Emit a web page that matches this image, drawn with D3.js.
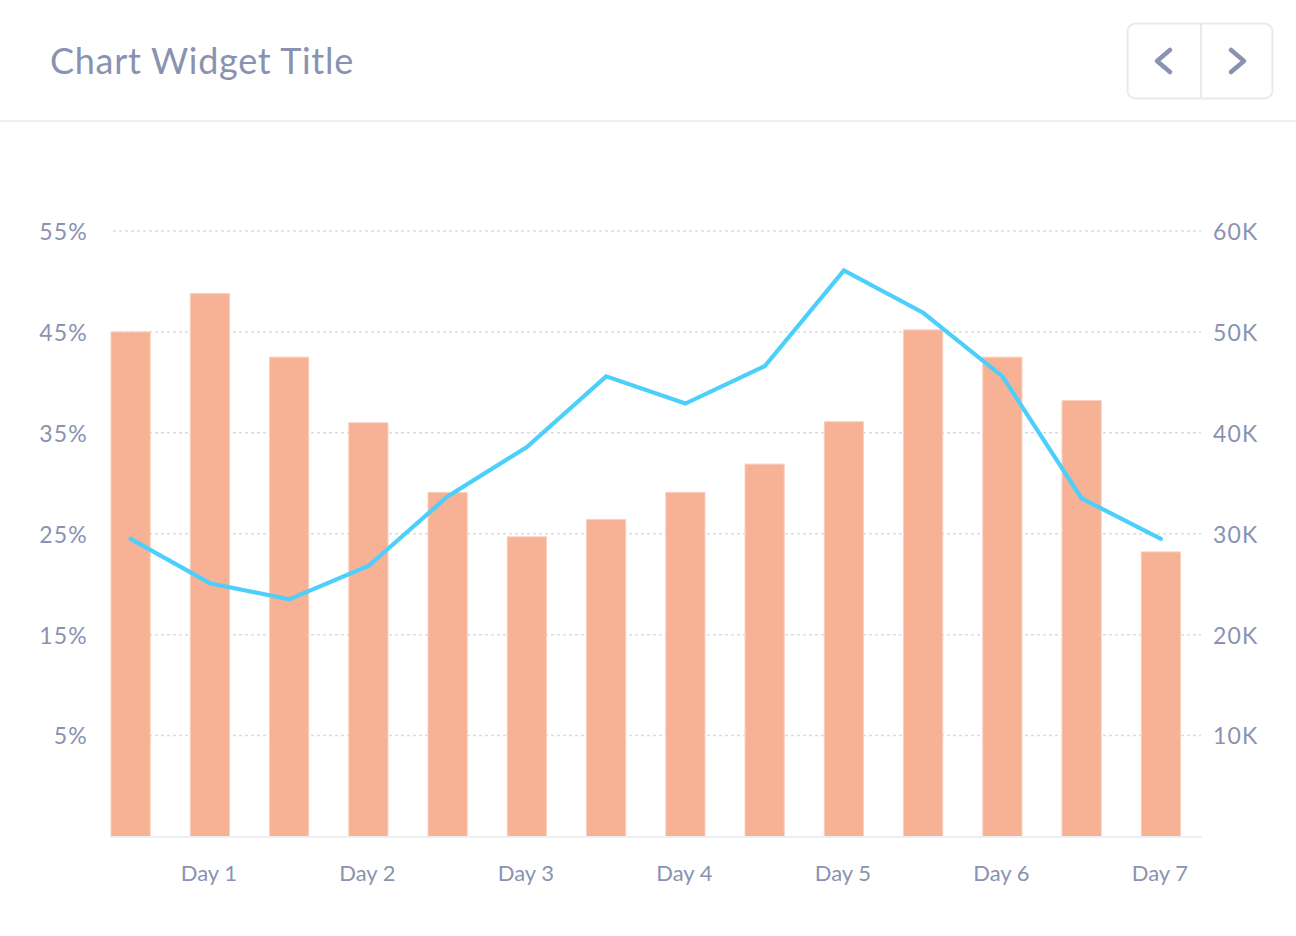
<!DOCTYPE html>
<html>
<head>
<meta charset="utf-8">
<script src="https://cdn.jsdelivr.net/npm/d3@7"></script>
<style>
  html, body { margin: 0; padding: 0; background: #ffffff; }
  svg { display: block; font-family: Lato, "Open Sans", sans-serif; }
</style>
</head>
<body>
<svg id="chart" width="1296" height="936"></svg>
<script>
// ---- data ----
const title = "Chart Widget Title";
const categories = ["D1a","D1b","D2a","D2b","D3a","D3b","D4a","D4b","D5a","D5b","D6a","D6b","D7a","D7b"];
const categoryLabels = ["", "Day 1", "", "Day 2", "", "Day 3", "", "Day 4", "", "Day 5", "", "Day 6", "", "Day 7"];
const barValues = [50000, 53800, 47500, 41000, 34100, 29700, 31400, 34100, 36900, 41100, 50200, 47500, 43200, 28200];
const lineValues = [24.5, 20.1, 18.5, 21.8, 28.7, 33.6, 40.6, 37.9, 41.6, 51.1, 46.9, 40.6, 28.5, 24.5];
const leftTicks = [5, 15, 25, 35, 45, 55];
const rightTicks = [10000, 20000, 30000, 40000, 50000, 60000];

// ---- styles ----
const textColor = "#8A92B2";
const barColor = "#F7B194";
const lineColor = "#4DCFFB";
const gridColor = "#D9DBE4";
const axisColor = "#EEEFF4";

const svg = d3.select("#chart");

// header
svg.append("text")
  .attr("x", 50).attr("y", 74)
  .attr("fill", textColor)
  .attr("font-size", 36)
  .attr("letter-spacing", 0.7)
  .text(title);

svg.append("line")
  .attr("x1", 0).attr("x2", 1296)
  .attr("y1", 121).attr("y2", 121)
  .attr("stroke", axisColor).attr("stroke-width", 2);

// nav buttons
const nav = svg.append("g");
nav.append("rect")
  .attr("x", 1127.5).attr("y", 23.5).attr("width", 145).attr("height", 75)
  .attr("rx", 8).attr("fill", "#fff")
  .attr("stroke", "#E9EAF0").attr("stroke-width", 2);
nav.append("line")
  .attr("x1", 1201).attr("x2", 1201).attr("y1", 24).attr("y2", 98)
  .attr("stroke", "#E9EAF0").attr("stroke-width", 2);
nav.append("path")
  .attr("d", "M1170,50 L1157,61 L1170,72")
  .attr("fill", "none").attr("stroke", textColor).attr("stroke-width", 4.5)
  .attr("stroke-linecap", "round").attr("stroke-linejoin", "round");
nav.append("path")
  .attr("d", "M1231,50 L1244,61 L1231,72")
  .attr("fill", "none").attr("stroke", textColor).attr("stroke-width", 4.5)
  .attr("stroke-linecap", "round").attr("stroke-linejoin", "round");

// scales
const yTop = 231, yBottom = 836.5;
const x = d3.scaleBand().domain(categories).range([111, 1180.5]).paddingInner(0.505).paddingOuter(0);
const yLeft = d3.scaleLinear().domain([-5, 55]).range([yBottom, yTop]);
const yRight = d3.scaleLinear().domain([0, 60000]).range([yBottom, yTop]);

// grid
const grid = svg.append("g");
grid.selectAll("line").data(leftTicks).join("line")
  .attr("x1", 113).attr("x2", 1201)
  .attr("y1", d => yLeft(d)).attr("y2", d => yLeft(d))
  .attr("stroke", gridColor).attr("stroke-width", 1.5)
  .attr("stroke-dasharray", "3 3");

// left axis
const leftAxis = d3.axisLeft(yLeft).tickValues(leftTicks).tickSize(0).tickPadding(0)
  .tickFormat(d => d + "%");
svg.append("g").attr("transform", "translate(88,1)").call(leftAxis)
  .call(g => g.select(".domain").remove())
  .call(g => g.selectAll("text").attr("fill", textColor).attr("font-size", 23)
    .attr("letter-spacing", 1.2)
    .attr("font-family", "Lato, sans-serif"));

// right axis
const rightAxis = d3.axisRight(yRight).tickValues(rightTicks).tickSize(0).tickPadding(0)
  .tickFormat(d => (d / 1000) + "K");
svg.append("g").attr("transform", "translate(1213,1)").call(rightAxis)
  .call(g => g.select(".domain").remove())
  .call(g => g.selectAll("text").attr("fill", textColor).attr("font-size", 23)
    .attr("letter-spacing", 1.2)
    .attr("font-family", "Lato, sans-serif"));

// bars
svg.append("g").selectAll("rect").data(barValues).join("rect")
  .attr("x", (d, i) => x(categories[i]))
  .attr("width", x.bandwidth())
  .attr("y", d => yRight(d))
  .attr("height", d => yBottom - yRight(d))
  .attr("fill", barColor)
  .attr("stroke", "#FAD0BE").attr("stroke-width", 1);

// baseline
svg.append("line")
  .attr("x1", 110).attr("x2", 1202)
  .attr("y1", yBottom + 0.5).attr("y2", yBottom + 0.5)
  .attr("stroke", axisColor).attr("stroke-width", 2);

// x axis
const xAxis = d3.axisBottom(x).tickSize(0).tickPadding(0)
  .tickFormat((d, i) => categoryLabels[i]);
svg.append("g").attr("transform", `translate(-1,${yBottom + 29})`).call(xAxis)
  .call(g => g.select(".domain").remove())
  .call(g => g.selectAll("text").attr("fill", textColor).attr("font-size", 22)
    .attr("font-family", "Lato, sans-serif"));

// line
const line = d3.line()
  .x((d, i) => x(categories[i]) + x.bandwidth() / 2)
  .y(d => yLeft(d));
svg.append("path").datum(lineValues)
  .attr("d", line)
  .attr("fill", "none")
  .attr("stroke", lineColor).attr("stroke-width", 4.2)
  .attr("stroke-linejoin", "miter").attr("stroke-linecap", "round");
</script>
</body>
</html>
